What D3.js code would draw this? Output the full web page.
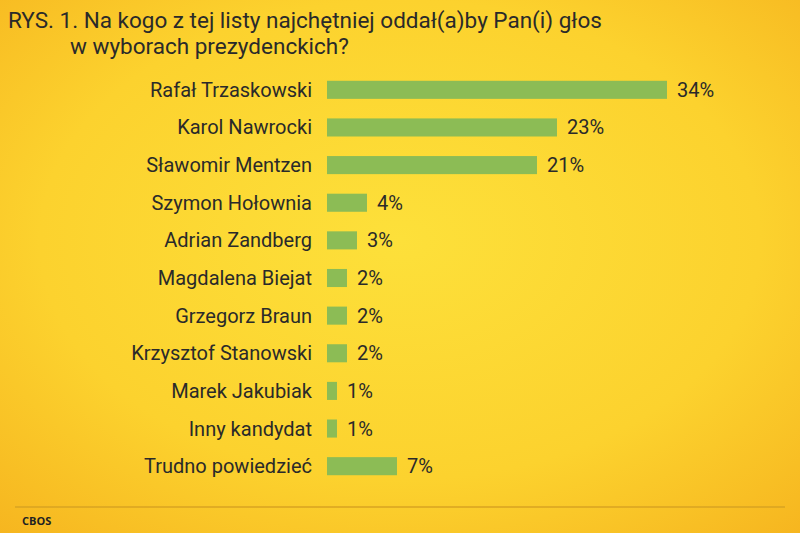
<!DOCTYPE html>
<html><head><meta charset="utf-8">
<script src="https://cdn.jsdelivr.net/npm/d3@7"></script>
<style>body{margin:0}svg{display:block}</style>
</head><body><svg id="c" width="800" height="533"></svg>
<script>
const candidates = ["Rafał Trzaskowski","Karol Nawrocki","Sławomir Mentzen","Szymon Hołownia","Adrian Zandberg","Magdalena Biejat","Grzegorz Braun","Krzysztof Stanowski","Marek Jakubiak","Inny kandydat","Trudno powiedzieć"];
const percents = [34,23,21,4,3,2,2,2,1,1,7];
const titleLines = ["RYS. 1. Na kogo z tej listy najchętniej oddał(a)by Pan(i) głos","w wyborach prezydenckich?"];

const svg = d3.select("#c");
const defs = svg.append("defs");
const g = defs.append("radialGradient").attr("id","bg").attr("cx","0.5").attr("cy","0.45").attr("r","0.75");
g.append("stop").attr("offset","0%").attr("stop-color","#fde03a");
g.append("stop").attr("offset","60%").attr("stop-color","#fcd22e");
g.append("stop").attr("offset","100%").attr("stop-color","#f6b51f");
svg.append("rect").attr("width",800).attr("height",533).attr("fill","url(#bg)");

svg.append("text").attr("x",8).attr("y",28).attr("font-family","Roboto").attr("font-size",22.5).attr("fill","#2a2a2a")
  .text(titleLines[0]);
svg.append("text").attr("x",70).attr("y",54).attr("font-family","Roboto").attr("font-size",22.5).attr("fill","#2a2a2a")
  .text(titleLines[1]);

const x = d3.scaleLinear().domain([0,34]).range([327,667]);
const y = d3.scaleBand().domain(candidates).range([71,485]).paddingInner(0.52).paddingOuter(0.26);

const rows = svg.append("g").selectAll("g").data(candidates).join("g");
rows.append("rect").attr("x",x(0)).attr("y",d=>y(d)).attr("height",y.bandwidth())
  .attr("width",(d,i)=>x(percents[i])-x(0)).attr("fill","#8cbc55");
rows.append("text").attr("x",312).attr("y",d=>y(d)+y.bandwidth()/2).attr("dy","0.35em")
  .attr("text-anchor","end").attr("font-family","Roboto").attr("font-size",20).attr("fill","#2a2a2a").text(d=>d);
rows.append("text").attr("x",(d,i)=>x(percents[i])+10).attr("y",d=>y(d)+y.bandwidth()/2).attr("dy","0.35em")
  .attr("font-family","Roboto").attr("font-size",20).attr("fill","#2a2a2a").text((d,i)=>percents[i]+"%");

svg.append("line").attr("x1",15).attr("x2",785).attr("y1",507).attr("y2",507).attr("stroke","#d9a322").attr("stroke-width",1.5);
svg.append("text").attr("x",22).attr("y",525).attr("font-family","Open Sans").attr("font-weight","bold")
  .attr("font-size",11).attr("fill","#222").text("CBOS");
</script></body></html>
